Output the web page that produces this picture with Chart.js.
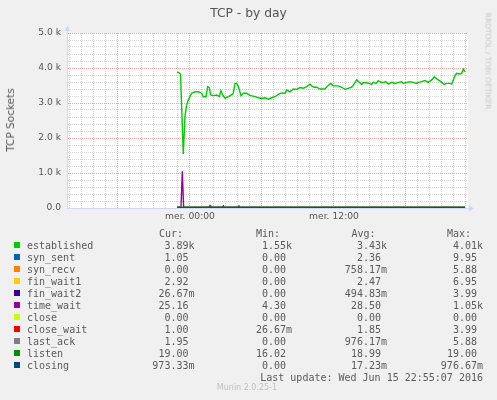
<!DOCTYPE html>
<html>
<head>
<meta charset="utf-8">
<script src="https://cdn.jsdelivr.net/npm/chart.js@4.4.0/dist/chart.umd.min.js"></script>
<style>
  html, body { margin: 0; padding: 0; background: #f0f0f0; }
  #wrap { position: relative; width: 497px; height: 400px; overflow: hidden;
          font-family: "DejaVu Sans", sans-serif; color: #5a5a5a; }
  canvas { position: absolute; left: 0; top: 0; }
  .abs { position: absolute; white-space: pre; }
  .mono { font-family: "DejaVu Sans Mono", monospace; font-size: 10px; line-height: 12px; }
  .sq { position: absolute; width: 6px; height: 6px; }
</style>
</head>
<body>
<div id="wrap">
  <canvas id="c" width="497" height="400"></canvas>
  <div class="abs" style="left:0;width:497px;top:6px;text-align:center;font-size:12.3px;color:#555;">TCP - by day</div>
  <div class="abs" style="left:10px;top:120px;font-size:10.5px;transform:translate(-50%,-50%) rotate(-90deg);">TCP Sockets</div>
  <div class="abs" style="left:488px;top:61px;font-size:7.5px;color:#c8c8c8;transform:translate(-50%,-50%) rotate(90deg);">RRDTOOL / TOBI OETIKER</div>
  <div id="legend"></div>
  <div class="abs" style="left:0;width:494px;top:383px;text-align:center;font-size:8px;color:#c0c0c0;">Munin 2.0.25-1</div>
</div>
<script>
// x = hours relative to Wed 00:00
const hours = [-1.08, -0.92, -0.79, -0.56, -0.42, -0.28, -0.14, 0.14, 0.42, 0.69, 0.97, 1.11, 1.33, 1.47, 1.61,
  1.72, 1.94, 2.22, 2.44, 2.58, 2.72, 2.92, 3.19, 3.47, 3.61, 3.75, 3.89, 4.03, 4.25, 4.44, 4.72, 5.0, 5.42,
  5.69, 5.97, 6.25, 6.53, 6.81, 7.08, 7.36, 7.64, 7.92, 8.06, 8.33, 8.61, 8.89, 9.17, 9.44, 9.72, 10.0, 10.14,
  10.36, 10.56, 10.83, 11.25, 11.53, 11.72, 11.94, 12.36, 12.64, 12.92, 13.19, 13.47, 13.61, 13.89, 14.11,
  14.31, 14.44, 14.72, 14.94, 15.14, 15.28, 15.5, 15.69, 15.89, 16.11, 16.31, 16.53, 16.81, 17.08, 17.36,
  17.64, 17.78, 18.06, 18.33, 18.61, 18.89, 19.03, 19.31, 19.58, 19.86, 20.14, 20.36, 20.56, 20.78, 20.97,
  21.19, 21.39, 21.67, 21.81, 21.94, 22.08, 22.22, 22.5, 22.64, 22.78, 22.92];
const established = [3880, 3870, 3830, 1540, 2610, 2940, 3090, 3280, 3320, 3320, 3280, 3180, 3180, 3470, 3440,
  3230, 3210, 3230, 3180, 3350, 3230, 3130, 3180, 3230, 3280, 3560, 3560, 3470, 3210, 3280, 3280, 3220, 3180,
  3150, 3130, 3150, 3110, 3150, 3180, 3250, 3290, 3280, 3370, 3320, 3400, 3390, 3440, 3420, 3470, 3540, 3490,
  3450, 3450, 3400, 3400, 3510, 3560, 3490, 3490, 3450, 3390, 3420, 3450, 3510, 3660, 3590,
  3530, 3580, 3580, 3560, 3530, 3590, 3560, 3640, 3590, 3590, 3610, 3540, 3590, 3560, 3590,
  3610, 3560, 3590, 3610, 3590, 3560, 3590, 3610, 3640, 3590, 3660, 3750, 3690, 3640, 3590,
  3530, 3560, 3560, 3540, 3660, 3780, 3850, 3830, 3850, 3970, 3890];

const twHours = [-1.08, -0.75, -0.64, -0.53, 1.58, 1.67, 1.75, 2.69, 2.78, 2.86, 4.0, 4.08, 4.17, 22.92];
const timeWait = [20, 21, 1050, 21, 20, 70, 20, 20, 65, 20, 20, 60, 20, 20];

const spanHours = [-1.08, 22.92];
const synSent = [2.4, 1.05];
const synRecv = [0.8, 0];
const finWait1 = [2.5, 2.92];
const finWait2 = [0.5, 0.03];
const closeV = [0, 0];
const closeWait = [1.9, 1];
const lastAck = [1, 1.95];
const listen = [19, 19];
const closing = [0, 0.97];

const names = ['established', 'syn_sent', 'syn_recv', 'fin_wait1', 'fin_wait2', 'time_wait',
  'close', 'close_wait', 'last_ack', 'listen', 'closing'];
const colors = ['#00CC00', '#0066B3', '#FF8000', '#FFCC00', '#330099', '#990099',
  '#CCFF00', '#FF0000', '#808080', '#008F00', '#00487D'];
const curVals = ['3.89k', '1.05 ', '0.00 ', '2.92 ', '26.67m', '25.16 ', '0.00 ', '1.00 ', '1.95 ', '19.00 ', '973.33m'];
const minVals = ['1.55k', '0.00 ', '0.00 ', '0.00 ', '0.00 ', '4.30 ', '0.00 ', '26.67m', '0.00 ', '16.02 ', '0.00 '];
const avgVals = ['3.43k', '2.36 ', '758.17m', '2.47 ', '494.83m', '28.50 ', '0.00 ', '1.85 ', '976.17m', '18.99 ', '17.23m'];
const maxVals = ['4.01k', '9.95 ', '5.88 ', '6.95 ', '3.99 ', '1.05k', '0.00 ', '3.99 ', '5.88 ', '19.00 ', '976.67m'];

const yTicks = [0, 1000, 2000, 3000, 4000, 5000];
const yTickLabels = ['0.0', '1.0 k', '2.0 k', '3.0 k', '4.0 k', '5.0 k'];
const xLabelHours = [0, 12];
const xLabels = ['mer. 00:00', 'mer. 12:00'];

// --- legend (real text) ---
const legend = document.getElementById('legend');
function addText(txt, css) {
    const d = document.createElement('div');
    d.className = 'abs mono';
    d.textContent = txt;
    d.style.cssText = css;
    legend.appendChild(d);
}
addText('Cur:', 'left:159px;top:228px;');
addText('Min:', 'left:256px;top:228px;');
addText('Avg:', 'left:351.5px;top:228px;');
addText('Max:', 'left:447px;top:228px;');
names.forEach((n, i) => {
    const top = 240 + 12 * i;
    const sq = document.createElement('div');
    sq.className = 'sq';
    sq.style.cssText = `left:14px;top:${top + 2}px;background:${colors[i]};`;
    legend.appendChild(sq);
    addText(n, `left:27px;top:${top}px;`);
    addText(curVals[i], `right:${497 - 194.5}px;top:${top}px;`);
    addText(minVals[i], `right:${497 - 292}px;top:${top}px;`);
    addText(avgVals[i], `right:${497 - 387}px;top:${top}px;`);
    addText(maxVals[i], `right:${497 - 483}px;top:${top}px;`);
});
addText('Last update: Wed Jun 15 22:55:07 2016', `right:${497 - 483}px;top:372px;`);

// --- chart ---
const toPts = (xs, ys) => xs.map((x, i) => ({ x: x, y: ys[i] }));
const seriesData = [
    toPts(hours, established), toPts(spanHours, synSent), toPts(spanHours, synRecv),
    toPts(spanHours, finWait1), toPts(spanHours, finWait2), toPts(twHours, timeWait),
    toPts(spanHours, closeV), toPts(spanHours, closeWait), toPts(spanHours, lastAck),
    toPts(spanHours, listen), toPts(spanHours, closing)
];

const AXIS = '#CFD6F8';
const MINOR = '#d6d6d6';
const MAJOR = '#f2a4a4';

const muninDeco = {
    id: 'muninDeco',
    beforeDraw(chart) {
        const { ctx, chartArea: a } = chart;
        ctx.save();
        ctx.fillStyle = '#ffffff';
        ctx.fillRect(a.left, a.top, a.right - a.left, a.bottom - a.top);
        ctx.restore();
    },
    afterDraw(chart) {
        // axis arrows
        const { ctx, chartArea: a } = chart;
        ctx.save();
        ctx.fillStyle = AXIS;
        ctx.strokeStyle = AXIS;
        ctx.lineWidth = 1;
        ctx.beginPath();
        ctx.moveTo(a.left + 0.5, a.top); ctx.lineTo(a.left + 0.5, a.top - 4);
        ctx.moveTo(a.right, a.bottom + 0.5); ctx.lineTo(a.right + 4, a.bottom + 0.5);
        ctx.stroke();
        ctx.beginPath();
        ctx.moveTo(a.left - 2.5, a.top - 2); ctx.lineTo(a.left + 3.5, a.top - 2); ctx.lineTo(a.left + 0.5, a.top - 7);
        ctx.closePath(); ctx.fill();
        ctx.beginPath();
        ctx.moveTo(a.right + 1, a.bottom - 2.5); ctx.lineTo(a.right + 1, a.bottom + 3.5); ctx.lineTo(a.right + 6, a.bottom + 0.5);
        ctx.closePath(); ctx.fill();
        ctx.restore();
    }
};

new Chart(document.getElementById('c'), {
    type: 'line',
    data: {
        datasets: names.map((n, i) => ({
            label: n,
            data: seriesData[i],
            borderColor: colors[i],
            backgroundColor: colors[i],
            borderWidth: n === 'listen' ? 1.8 : 1.4,
            pointRadius: 0,
            tension: 0,
            fill: false,
            order: names.length - i
        }))
    },
    options: {
        responsive: false,
        animation: false,
        devicePixelRatio: 1,
        layout: { padding: { top: 33, right: 29, bottom: 172, left: 0 } },
        plugins: { legend: { display: false }, tooltip: { enabled: false }, title: { display: false } },
        scales: {
            x: {
                type: 'linear',
                min: -10.25,
                max: 23.1667,
                afterFit: s => { s.height = 20; },
                ticks: {
                    stepSize: 1,
                    autoSkip: false,
                    maxRotation: 0,
                    includeBounds: false,
                    padding: 3,
                    color: '#555',
                    font: { family: 'DejaVu Sans', size: 9.2 },
                    callback: v => {
                        const k = xLabelHours.indexOf(v);
                        return k >= 0 ? xLabels[k] : '';
                    }
                },
                grid: {
                    drawTicks: false,
                    color: c => (c.tick && c.tick.value % 6 === 0) ? MAJOR : MINOR
                },
                border: { display: true, color: AXIS, width: 1, dash: [1, 1] }
            },
            y: {
                min: 0,
                max: 5000,
                afterFit: s => { s.width = 67; },
                ticks: {
                    stepSize: 200,
                    autoSkip: false,
                    padding: 6,
                    color: '#555',
                    font: { family: 'DejaVu Sans', size: 9.2 },
                    callback: v => {
                        const k = yTicks.indexOf(v);
                        return k >= 0 ? yTickLabels[k] : '';
                    }
                },
                grid: {
                    drawTicks: false,
                    color: c => (c.tick && c.tick.value % 1000 === 0) ? MAJOR : MINOR
                },
                border: { display: true, color: AXIS, width: 1, dash: [1, 1] }
            }
        }
    },
    plugins: [muninDeco]
});
</script>
</body>
</html>
